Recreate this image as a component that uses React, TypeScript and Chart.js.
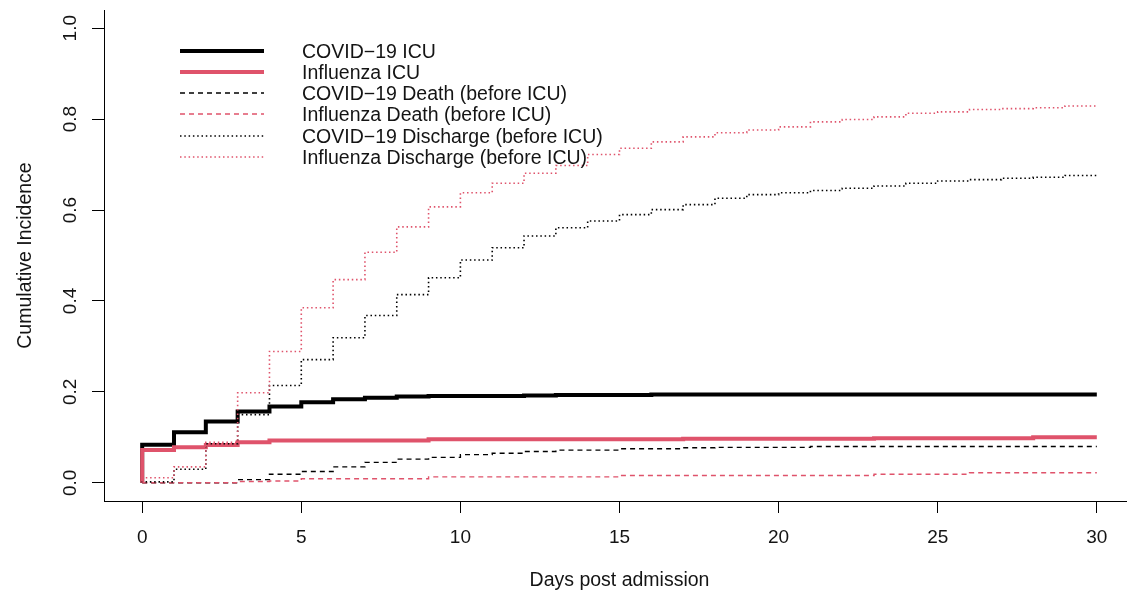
import React, { useEffect, useRef } from "react";
import { Chart, registerables } from "chart.js";

Chart.register(...registerables);

// ---- data (cumulative incidence, value held on [day, day+1)) ----
const days = [0, 1, 2, 3, 4, 5, 6, 7, 8, 9, 10, 11, 12, 13, 14, 15, 16, 17, 18, 19, 20, 21, 22, 23, 24, 25, 26, 27, 28, 29];
const END_DAY = 30;

const covidICU = [0.084, 0.111, 0.135, 0.157, 0.168, 0.177, 0.184, 0.187, 0.19, 0.191, 0.191, 0.191, 0.192, 0.193, 0.193, 0.193, 0.194, 0.194, 0.194, 0.194, 0.194, 0.194, 0.194, 0.194, 0.194, 0.194, 0.194, 0.194, 0.194, 0.194];
const fluICU = [0.072, 0.078, 0.083, 0.089, 0.093, 0.093, 0.093, 0.093, 0.093, 0.096, 0.096, 0.096, 0.096, 0.096, 0.096, 0.096, 0.096, 0.097, 0.097, 0.097, 0.097, 0.097, 0.097, 0.098, 0.098, 0.098, 0.098, 0.098, 0.1, 0.1];
const covidDeath = [0, 0, 0, 0.007, 0.019, 0.025, 0.035, 0.045, 0.052, 0.056, 0.062, 0.065, 0.069, 0.072, 0.072, 0.075, 0.075, 0.077, 0.078, 0.078, 0.078, 0.08, 0.08, 0.08, 0.08, 0.08, 0.08, 0.08, 0.08, 0.08];
const fluDeath = [0, 0, 0, 0.003, 0.004, 0.009, 0.009, 0.009, 0.009, 0.013, 0.013, 0.013, 0.013, 0.013, 0.013, 0.016, 0.016, 0.016, 0.016, 0.016, 0.016, 0.016, 0.016, 0.019, 0.019, 0.019, 0.022, 0.022, 0.022, 0.022];
const covidDischarge = [0.002, 0.03, 0.086, 0.15, 0.214, 0.271, 0.319, 0.368, 0.414, 0.451, 0.49, 0.517, 0.543, 0.561, 0.576, 0.59, 0.601, 0.612, 0.626, 0.634, 0.638, 0.643, 0.648, 0.653, 0.659, 0.664, 0.667, 0.67, 0.672, 0.676];
const fluDischarge = [0.011, 0.035, 0.089, 0.198, 0.289, 0.385, 0.447, 0.507, 0.563, 0.607, 0.638, 0.659, 0.681, 0.698, 0.722, 0.736, 0.75, 0.761, 0.77, 0.776, 0.783, 0.794, 0.799, 0.805, 0.813, 0.816, 0.821, 0.823, 0.825, 0.829];

const seriesLabels = [
  "COVID\u221219 ICU",
  "Influenza ICU",
  "COVID\u221219 Death (before ICU)",
  "Influenza Death (before ICU)",
  "COVID\u221219 Discharge (before ICU)",
  "Influenza Discharge (before ICU)",
];
const seriesValues = [covidICU, fluICU, covidDeath, fluDeath, covidDischarge, fluDischarge];

const xTicks = [0, 5, 10, 15, 20, 25, 30];
const yTicks = [0, 0.2, 0.4, 0.6, 0.8, 1.0];
const xTitle = "Days post admission";
const yTitle = "Cumulative Incidence";

// ---- styles ----
const BLACK = "#000000";
const RED = "#DF536B";
const FONT = '"Liberation Sans", Arial, sans-serif';
const TEXT = "#141414";
const lineStyles = [
  { color: BLACK, width: 4, dash: [] as number[] },
  { color: RED, width: 4, dash: [] as number[] },
  { color: BLACK, width: 1.4, dash: [5, 4] },
  { color: RED, width: 1.4, dash: [5, 4] },
  { color: BLACK, width: 1.6, dash: [1.5, 2.8] },
  { color: RED, width: 1.6, dash: [1.5, 2.8] },
];

function toSteps(vals: number[]) {
  const pts = [{ x: 0, y: 0 }];
  days.forEach((d, i) => pts.push({ x: d, y: vals[i] }));
  pts.push({ x: END_DAY, y: vals[vals.length - 1] });
  return pts;
}

export default function App() {
  const canvasRef = useRef<HTMLCanvasElement | null>(null);

  useEffect(() => {
    if (!canvasRef.current) return;
    const chart = new Chart(canvasRef.current, {
      type: "line",
      data: {
        datasets: seriesValues.map((vals, i) => ({
          label: seriesLabels[i],
          data: toSteps(vals),
          borderColor: lineStyles[i].color,
          backgroundColor: lineStyles[i].color,
          borderWidth: lineStyles[i].width,
          borderDash: lineStyles[i].dash,
          borderCapStyle: "butt",
          borderJoinStyle: "miter",
          stepped: "before",
          pointRadius: 0,
          pointHoverRadius: 0,
          fill: false,
          order: 10 - i,
        })),
      },
      options: {
        animation: false,
        responsive: false,
        maintainAspectRatio: false,
        events: [],
        layout: { padding: { top: 10, right: 0, bottom: 0, left: 0 } },
        plugins: { legend: { display: false }, tooltip: { enabled: false } },
        scales: {
          x: {
            type: "linear",
            min: -1.2,
            max: 31.2,
            afterBuildTicks: (s: any) => {
              s.ticks = xTicks.map((v) => ({ value: v }));
            },
            afterFit: (s: any) => {
              s.height = 98;
              s.paddingLeft = 0;
              s.paddingRight = 0;
            },
            grid: { drawOnChartArea: false, drawTicks: true, tickLength: 12, tickColor: BLACK, tickWidth: 1 },
            border: { display: true, color: BLACK, width: 1 },
            ticks: {
              color: TEXT,
              font: { family: FONT, size: 19 },
              padding: 13,
              maxRotation: 0,
              minRotation: 0,
              autoSkip: false,
              callback: (v: any) => String(v),
            },
            title: {
              display: true,
              text: xTitle,
              color: TEXT,
              font: { family: FONT, size: 19.5 },
              padding: { top: 0, bottom: 6.5 },
            },
          },
          y: {
            type: "linear",
            min: -0.04,
            max: 1.04,
            afterBuildTicks: (s: any) => {
              s.ticks = yTicks.map((v) => ({ value: v }));
            },
            afterFit: (s: any) => {
              s.width = 104;
              s.paddingTop = 0;
              s.paddingBottom = 0;
            },
            grid: { drawOnChartArea: false, drawTicks: true, tickLength: 12, tickColor: BLACK, tickWidth: 1 },
            border: { display: true, color: BLACK, width: 1 },
            ticks: {
              color: TEXT,
              font: { family: FONT, size: 19 },
              padding: 8,
              minRotation: 90,
              maxRotation: 90,
              crossAlign: "center",
              autoSkip: false,
              callback: (v: any) => Number(v).toFixed(1),
            },
            title: {
              display: true,
              text: yTitle,
              color: TEXT,
              font: { family: FONT, size: 19.5 },
              padding: { top: 14, bottom: 0 },
            },
          },
        },
      },
    } as any);
    return () => chart.destroy();
  }, []);

  return (
    <div style={{ position: "absolute", left: 0, top: 0, width: 1127, height: 599, overflow: "hidden", background: "#fff" }}>
      <canvas ref={canvasRef} width={1135} height={599} style={{ display: "block", width: 1135, height: 599 }} />
      {seriesLabels.map((lab, i) => (
        <div
          key={lab}
          style={{
            position: "absolute",
            left: 180,
            top: 50.5 + i * 21.3 - 11,
            height: 22,
            display: "flex",
            alignItems: "center",
            whiteSpace: "nowrap",
          }}
        >
          <svg width={84} height={8} style={{ display: "block" }}>
            <line
              x1={0}
              y1={4}
              x2={84}
              y2={4}
              stroke={lineStyles[i].color}
              strokeWidth={lineStyles[i].width}
              strokeDasharray={lineStyles[i].dash.length ? lineStyles[i].dash.join(" ") : undefined}
            />
          </svg>
          <span style={{ marginLeft: 38, font: `19.5px ${FONT}`, color: TEXT, lineHeight: "22px" }}>{lab}</span>
        </div>
      ))}
    </div>
  );
}
